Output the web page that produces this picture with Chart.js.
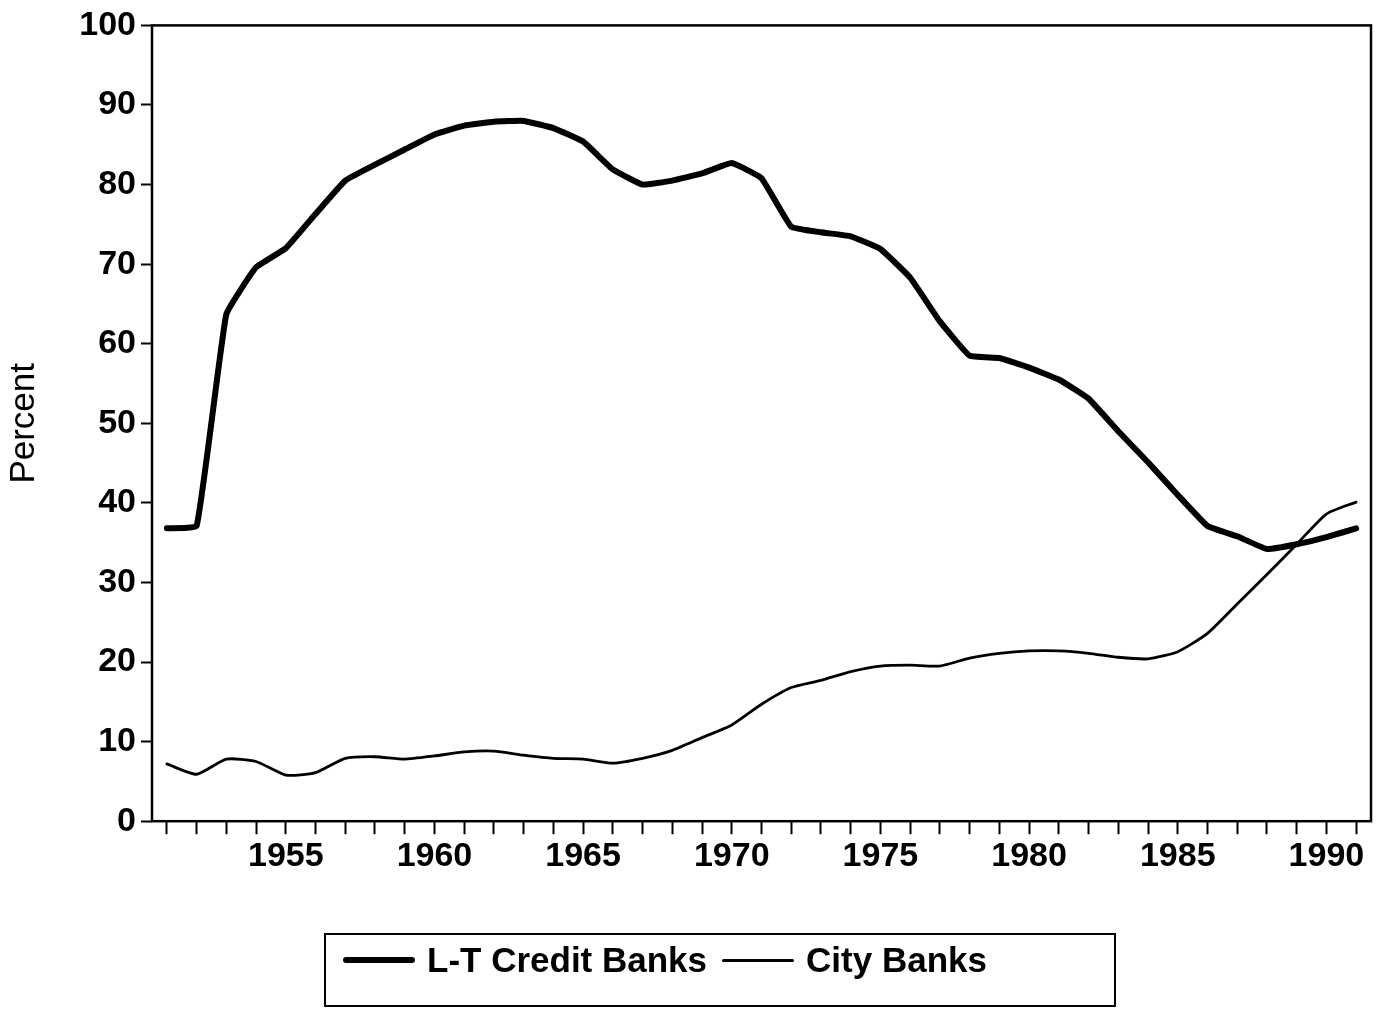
<!DOCTYPE html>
<html>
<head>
<meta charset="utf-8">
<title>L-T Credit Banks vs City Banks</title>
<script src="https://cdn.jsdelivr.net/npm/chart.js@4/dist/chart.umd.min.js"></script>
<style>
    html, body { margin: 0; padding: 0; background: #fff; }
    #wrap { position: relative; width: 1380px; height: 1009px; }
    #wrap canvas { position: absolute; left: 0; top: 0; }
    #legendBox {
        position: absolute; left: 324px; top: 933px; width: 788px; height: 70px;
        border: 2px solid #000; box-sizing: content-box;
        font-family: "Liberation Sans", Arial, sans-serif; font-weight: bold; font-size: 35px; color: #000;
    }
    #legendBox .row { display: flex; align-items: center; height: 50px; padding-left: 17px; }
    #legendBox .swatch { display: inline-block; width: 72px; background: #000; border-radius: 3px; margin-right: 12px; }
    #legendBox .lbl { margin-right: 15px; }
</style>
</head>
<body>
<div id="wrap">
    <canvas id="shareChart" width="1380" height="1009"></canvas>
    <div id="legendBox"><div class="row"></div></div>
</div>
<script>
// years on the x axis
var years = [];
for (var yr = 1951; yr <= 1991; yr++) years.push(yr);

// percent
var ltCreditBanks = [36.8, 37.1, 63.7, 69.6, 72.0, 76.3, 80.5, 82.5, 84.4, 86.3,
    87.4, 87.9, 88.0, 87.1, 85.4, 81.9, 80.0, 80.5, 81.4, 82.7,
    80.8, 74.7, 74.0, 73.5, 71.9, 68.3, 62.8, 58.5, 58.2, 57.0,
    55.5, 53.1, 49.0, 45.1, 41.0, 37.1, 35.8, 34.2, 34.8, 35.7, 36.8];
var cityBanks = [7.2, 5.9, 7.8, 7.5, 5.8, 6.1, 7.9, 8.1, 7.8, 8.2,
    8.7, 8.8, 8.3, 7.9, 7.8, 7.3, 7.9, 8.9, 10.5, 12.1,
    14.7, 16.8, 17.7, 18.8, 19.5, 19.6, 19.5, 20.5, 21.1, 21.4,
    21.4, 21.1, 20.6, 20.4, 21.3, 23.6, 27.3, 31.0, 34.8, 38.6, 40.1];

var yTicks = [0, 10, 20, 30, 40, 50, 60, 70, 80, 90, 100];
var seriesLabels = ['L-T Credit Banks', 'City Banks'];

function toPoints(vals) {
    return years.map(function (y, i) { return { x: y, y: vals[i] }; });
}

var tickFont = { family: '"Liberation Sans", Arial, sans-serif', size: 34, weight: 'bold' };

// box round the plot area
var frame = {
    id: 'frame',
    afterDraw: function (chart) {
        var a = chart.chartArea, ctx = chart.ctx;
        ctx.save();
        ctx.strokeStyle = '#000';
        ctx.lineWidth = 2.5;
        ctx.strokeRect(a.left, a.top, a.right - a.left, a.bottom - a.top);
        ctx.restore();
    }
};

var chart = new Chart(document.getElementById('shareChart'), {
    type: 'line',
    data: {
        datasets: [{
            label: seriesLabels[0],
            data: toPoints(ltCreditBanks),
            borderColor: '#000',
            borderWidth: 6,
            pointRadius: 0,
            tension: 0.1,
            borderJoinStyle: 'round',
            borderCapStyle: 'round'
        }, {
            label: seriesLabels[1],
            data: toPoints(cityBanks),
            borderColor: '#000',
            borderWidth: 2.8,
            pointRadius: 0,
            tension: 0.2,
            borderJoinStyle: 'round',
            borderCapStyle: 'round'
        }]
    },
    options: {
        responsive: false, animation: false,
        layout: { padding: { top: 21, right: 9, bottom: 130, left: 0 } },
        scales: {
            x: {
                type: 'linear', min: 1950.5, max: 1991.5,
                afterBuildTicks: function (scale) {
                    scale.ticks = years.map(function (v) { return { value: v }; });
                },
                ticks: {
                    autoSkip: false, maxRotation: 0, padding: 2, color: '#000', font: tickFont,
                    callback: function (v) { return v % 5 === 0 ? String(v) : ''; }
                },
                grid: { drawOnChartArea: false, drawTicks: true, tickLength: 13, tickWidth: 2, tickColor: '#000' },
                border: { display: false }
            },
            y: {
                min: 0, max: 100,
                afterBuildTicks: function (scale) {
                    scale.ticks = yTicks.map(function (v) { return { value: v }; });
                },
                afterFit: function (scale) { scale.width = 152; },
                ticks: { padding: 5, color: '#000', font: tickFont },
                grid: { drawOnChartArea: false, drawTicks: true, tickLength: 11, tickWidth: 2, tickColor: '#000' },
                border: { display: false },
                title: {
                    display: true, text: 'Percent', color: '#000',
                    font: { family: '"Liberation Sans", Arial, sans-serif', size: 35 },
                    padding: { top: 3, bottom: 0 }
                }
            }
        },
        plugins: {
            legend: { display: false },
            tooltip: { enabled: false }
        }
    },
    plugins: [frame]
});

// html legend built from the datasets
var row = document.querySelector('#legendBox .row');
chart.data.datasets.forEach(function (ds) {
    var sw = document.createElement('span');
    sw.className = 'swatch';
    sw.style.height = Math.round(ds.borderWidth) + 'px';
    var lb = document.createElement('span');
    lb.className = 'lbl';
    lb.textContent = ds.label;
    row.appendChild(sw);
    row.appendChild(lb);
});
</script>
</body>
</html>
